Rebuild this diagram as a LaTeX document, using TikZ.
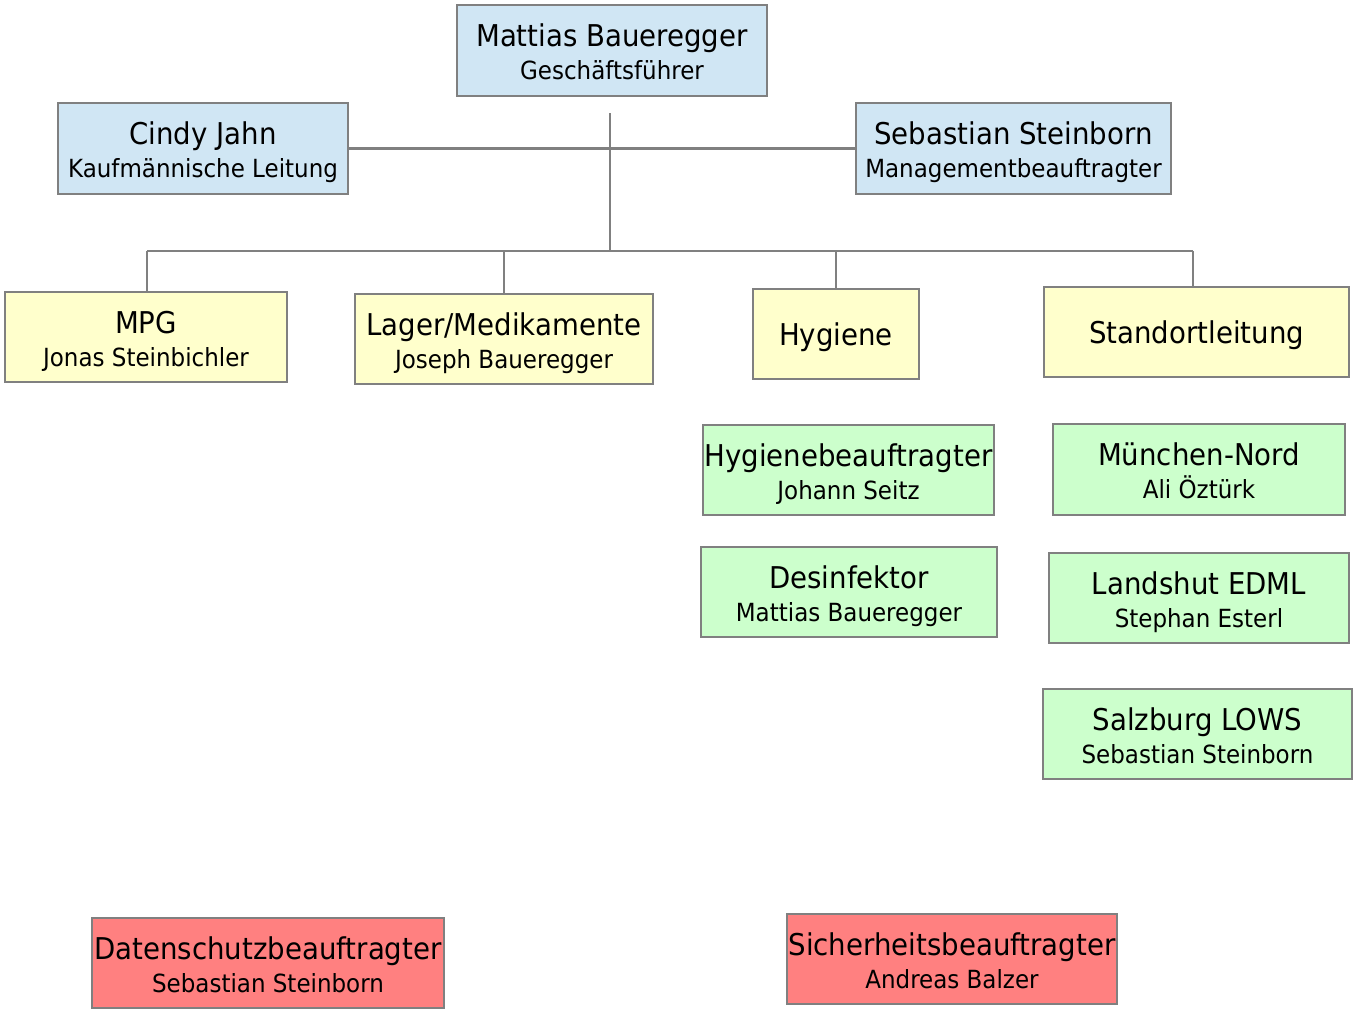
\documentclass[tikz,border=0pt]{standalone}
\usepackage{fontspec}
\setmainfont{DejaVu Sans}[FakeStretch=0.92]
\definecolor{bxblue}{HTML}{D0E6F4}
\definecolor{bxyellow}{HTML}{FFFFCC}
\definecolor{bxgreen}{HTML}{CCFFCC}
\definecolor{bxred}{HTML}{FF8080}
\definecolor{edge}{HTML}{808080}
\tikzset{
  orgbox/.style={draw=edge, line width=2.8pt, rectangle, inner sep=0pt},
  conn/.style={draw=edge, line width=2.8pt},
  ttl/.style={anchor=base, inner sep=0pt, font=\fontsize{30}{34}\selectfont},
  sub/.style={anchor=base, inner sep=0pt, font=\fontsize{25}{28}\selectfont},
}
\newcommand{\mkbox}[7]{% name, color, x1, y1, x2, y2, (unused)
  \node[orgbox, fill=#2, minimum width={#5-#3}, minimum height={#6-#4}] (#1) at ({(#3+#5)/2},{(#4+#6)/2}) {};
}
\begin{document}
\begin{tikzpicture}[x=1pt,y=-1pt]
\useasboundingbox (0,0) rectangle (1353,1012);
% boxes
\mkbox{ceo}{bxblue}{457}{5}{767}{96}{}
\mkbox{cj}{bxblue}{58}{103}{348}{194}{}
\mkbox{ss}{bxblue}{856}{103}{1171}{194}{}
\mkbox{mpg}{bxyellow}{5}{292}{287}{382}{}
\mkbox{lag}{bxyellow}{355}{294}{653}{384}{}
\mkbox{hyg}{bxyellow}{753}{289}{919}{379}{}
\mkbox{sto}{bxyellow}{1044}{287}{1349}{377}{}
\mkbox{hb}{bxgreen}{703}{425}{994}{515}{}
\mkbox{des}{bxgreen}{701}{547}{997}{637}{}
\mkbox{mn}{bxgreen}{1053}{424}{1345}{515}{}
\mkbox{la}{bxgreen}{1049}{553}{1349}{643}{}
\mkbox{sa}{bxgreen}{1043}{689}{1352}{779}{}
\mkbox{ds}{bxred}{92}{918}{444}{1008}{}
\mkbox{sb}{bxred}{787}{914}{1117}{1004}{}
% texts
\node[ttl] (ceo-t) at ([yshift=4pt]ceo.center) {Mattias Baueregger};
\node[sub] (ceo-s) at ([yshift=-29pt]ceo.center) {Geschäftsführer};
\node[ttl] (cj-t) at ([yshift=4pt]cj.center) {Cindy Jahn};
\node[sub] (cj-s) at ([yshift=-29pt]cj.center) {Kaufmännische Leitung};
\node[ttl] (ss-t) at ([yshift=4pt]ss.center) {Sebastian Steinborn};
\node[sub] (ss-s) at ([yshift=-29pt]ss.center) {Managementbeauftragter};
\node[ttl] (mpg-t) at ([yshift=4pt]mpg.center) {MPG};
\node[sub] (mpg-s) at ([yshift=-29pt]mpg.center) {Jonas Steinbichler};
\node[ttl] (lag-t) at ([yshift=4pt]lag.center) {Lager/Medikamente};
\node[sub] (lag-s) at ([yshift=-29pt]lag.center) {Joseph Baueregger};
\node[ttl] (hyg-t) at ([yshift=-11pt]hyg.center) {Hygiene};
\node[ttl] (sto-t) at ([yshift=-11pt]sto.center) {Standortleitung};
\node[ttl] (hb-t) at ([yshift=4pt]hb.center) {Hygienebeauftragter};
\node[sub] (hb-s) at ([yshift=-29pt]hb.center) {Johann Seitz};
\node[ttl] (des-t) at ([yshift=4pt]des.center) {Desinfektor};
\node[sub] (des-s) at ([yshift=-29pt]des.center) {Mattias Baueregger};
\node[ttl] (mn-t) at ([yshift=4pt]mn.center) {München-Nord};
\node[sub] (mn-s) at ([yshift=-29pt]mn.center) {Ali Öztürk};
\node[ttl] (la-t) at ([yshift=4pt]la.center) {Landshut EDML};
\node[sub] (la-s) at ([yshift=-29pt]la.center) {Stephan Esterl};
\node[ttl] (sa-t) at ([yshift=4pt]sa.center) {Salzburg LOWS};
\node[sub] (sa-s) at ([yshift=-29pt]sa.center) {Sebastian Steinborn};
\node[ttl] (ds-t) at ([yshift=4pt]ds.center) {Datenschutzbeauftragter};
\node[sub] (ds-s) at ([yshift=-29pt]ds.center) {Sebastian Steinborn};
\node[ttl] (sb-t) at ([yshift=4pt]sb.center) {Sicherheitsbeauftragter};
\node[sub] (sb-s) at ([yshift=-29pt]sb.center) {Andreas Balzer};
% connectors
\coordinate (top) at (610,113);
\coordinate (bus) at (610,251);
\coordinate (busL) at (147,251);
\coordinate (busR) at (1193,251);
\draw[conn] (top) -- (bus);
\draw[conn] (cj.east) -- (ss.west);
\draw[conn] (busL) -- (busR);
\draw[conn] (busL) -- (busL |- mpg.north);
\draw[conn] (bus -| lag.north) -- (lag.north);
\draw[conn] (bus -| hyg.north) -- (hyg.north);
\draw[conn] (busR) -- (busR |- sto.north);
\end{tikzpicture}
\end{document}
